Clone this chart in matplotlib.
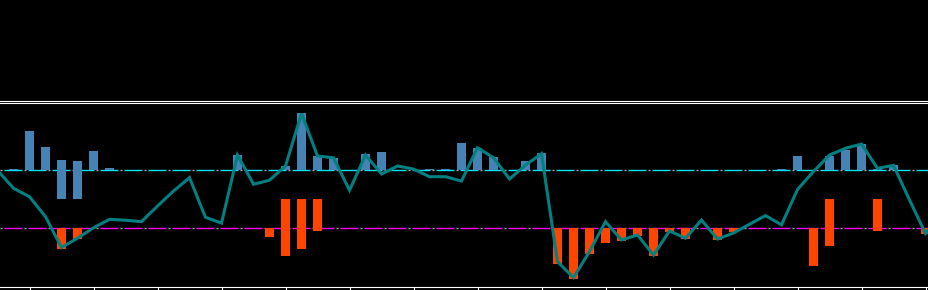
import matplotlib
matplotlib.use("Agg")
import matplotlib.pyplot as plt
import numpy as np

plt.rcParams['lines.scale_dashes'] = False

# ---- data ----
line_vals = [0.0, -0.31, -0.455, -0.80, -1.33, -1.17, -0.99, -0.845, -0.86, -0.885,
             -0.615, -0.357, -0.127, -0.81, -0.91, 0.264, -0.24, -0.17, 0.074, 0.98,
             0.246, 0.217, -0.345, 0.264, -0.064, 0.074, 0.022, -0.11, -0.11, -0.185,
             0.39, 0.217, -0.15, 0.09, 0.287, -1.575, -1.85, -1.40, -0.885, -1.20,
             -1.115, -1.46, -1.045, -1.17, -0.857, -1.185, -1.08, -0.93, -0.78, -0.94,
             -0.33, -0.02, 0.264, 0.38, 0.453, 0.034, 0.086, -0.51, -1.09, -0.75]

blue_idx = [1, 2, 3, 4, 5, 6, 7, 15, 18, 19, 20, 21, 23, 24, 27, 28, 29, 30, 31, 33, 34,
            49, 50, 52, 53, 54, 55, 56]
blue_low = [0, 0, 0, -0.5, -0.5, 0, 0, 0, 0, 0, 0, 0, 0, 0, 0, 0, 0, 0, 0, 0, 0,
            0, 0, 0, 0, 0, 0, 0]
blue_high = [0.02, 0.68, 0.40, 0.18, 0.16, 0.33, 0.04, 0.264, 0.074, 0.99, 0.246, 0.212,
             0.28, 0.315, 0.02, 0.02, 0.47, 0.385, 0.23, 0.16, 0.30,
             0.02, 0.246, 0.246, 0.35, 0.453, 0.02, 0.09]

orange_idx = [4, 5, 17, 18, 19, 20, 35, 36, 37, 38, 39, 40, 41, 42, 43, 45, 46, 51, 52, 55, 58]
orange_low = [-1.36, -1.18, -1.145, -1.47, -1.35, -1.04, -1.615, -1.87, -1.44, -1.25, -1.21,
              -1.13, -1.47, -1.07, -1.18, -1.195, -1.07, -1.645, -1.30, -1.04, -1.09]
orange_high = [-1, -1, -1, -0.5, -0.5, -0.5, -1, -1, -1, -1, -1,
               -1, -1, -1, -1, -1, -1, -1, -0.5, -0.5, -1]

upper_level = 0.0
lower_level = -1.0
tick_pos = list(range(2, 59, 4))

# ---- figure ----
W, H = 928, 290
fig = plt.figure(figsize=(W / 100 + 1e-4, H / 100 + 1e-4), dpi=100, facecolor='black')

ax_top = fig.add_axes([0, 1 - 101.2 / H, 1, 101.2 / H], facecolor='black')
for s in ['top', 'left', 'right']:
    ax_top.spines[s].set_visible(False)
ax_top.spines['bottom'].set_color('white')
ax_top.spines['bottom'].set_linewidth(0.8)
ax_top.set_xticks([])
ax_top.set_yticks([])

ax = fig.add_axes([0, 1 - 287.5 / H, 1, (287.5 - 103.5) / H], facecolor='black')
for s in ['left', 'right']:
    ax.spines[s].set_visible(False)
for s in ['top', 'bottom']:
    ax.spines[s].set_color('white')
    ax.spines[s].set_linewidth(0.8)

px = 0.72  # points per pixel
# reference levels: grey dots + coloured dashes
for lvl, col in [(upper_level, '#00E5EE'), (lower_level, '#FF00FF')]:
    ax.axhline(lvl, color='#A8A8A8', lw=1.0, linestyle=(0, (2 * px, 22 * px)), zorder=1)
    ax.axhline(lvl, color=col, lw=1.0, linestyle=(20 * px, (18 * px, 6 * px)), zorder=1)

bw = 0.56
ax.bar(blue_idx, np.array(blue_high) - np.array(blue_low), bottom=blue_low,
       width=bw, color='#4682B4', zorder=2)
ax.bar(orange_idx, np.array(orange_high) - np.array(orange_low), bottom=orange_low,
       width=bw, color='#FF4500', zorder=2)

ax.plot(range(len(line_vals)), line_vals, color='#008080', lw=2.2, zorder=3,
        solid_joinstyle='miter')

ax.set_xlim(2.5 / 16, 930.5 / 16)
ax.set_ylim(-2.02, 1.152)
ax.set_xticks(tick_pos)
ax.set_xticklabels([])
ax.set_yticks([])
ax.tick_params(axis='x', colors='white', length=3.5, width=0.8, direction='out')

fig.savefig('out.png', dpi=100, facecolor='black')
